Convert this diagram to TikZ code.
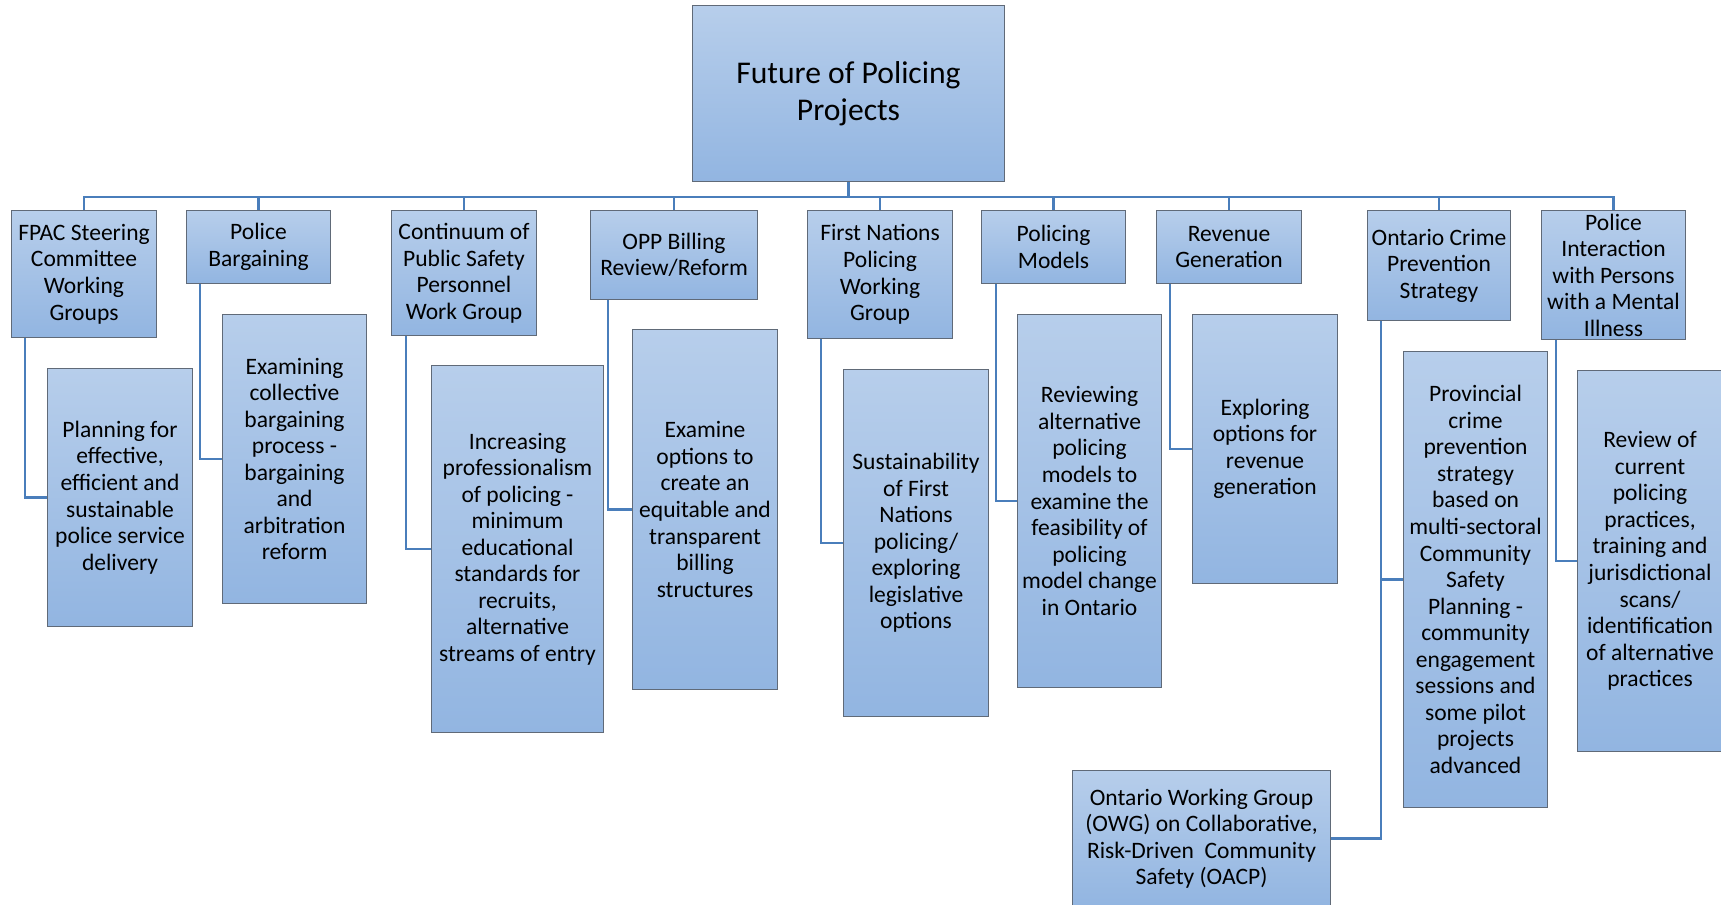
\documentclass[tikz,border=0pt]{standalone}
\usepackage{fontspec}
\setmainfont{Carlito}
\usetikzlibrary{positioning}

\definecolor{boxtop}{RGB}{183,206,235}
\definecolor{boxbot}{RGB}{146,181,225}
\definecolor{boxline}{RGB}{96,106,120}
\definecolor{linkblue}{RGB}{74,126,187}

\begin{document}
\begin{tikzpicture}[x=0.02cm, y=-0.02cm,
    box/.style={draw=boxline, line width=0.6pt, top color=boxtop, bottom color=boxbot,
      anchor=north west, align=center, inner sep=1pt,
      font=\fontsize{13.4}{15.1}\selectfont},
    link/.style={draw=linkblue, line width=1.4pt},
  ]
  \useasboundingbox (0,0) rectangle (1721,904);

  % top of the tree
  \node[box, minimum width=6.24cm, minimum height=3.52cm,
    font=\fontsize{18}{21}\selectfont] (root) at (692,5) {Future of Policing\\Projects};
  \coordinate (bus) at (848,197);

  % projects
  \node[box, minimum width=2.9cm, minimum height=2.54cm] (fpac) at (11,210) {FPAC Steering\\Committee\\Working\\Groups};
  \node[box, minimum width=2.88cm, minimum height=1.46cm] (barg) at (186,210) {Police\\Bargaining};
  \node[box, minimum width=2.9cm, minimum height=2.5cm] (cont) at (391,210) {Continuum of\\Public Safety\\Personnel\\Work Group};
  \node[box, minimum width=3.34cm, minimum height=1.78cm] (opp) at (590,210) {OPP Billing\\Review/Reform};
  \node[box, minimum width=2.9cm, minimum height=2.56cm] (fnat) at (807,210) {First Nations\\Policing\\Working\\Group};
  \node[box, minimum width=2.88cm, minimum height=1.46cm] (models) at (981,210) {Policing\\Models};
  \node[box, minimum width=2.9cm, minimum height=1.46cm] (revgen) at (1156,210) {Revenue\\Generation};
  \node[box, minimum width=2.86cm, minimum height=2.2cm] (ocps) at (1367,210) {Ontario Crime\\Prevention\\Strategy};
  \node[box, minimum width=2.88cm, minimum height=2.58cm] (pimi) at (1541,210) {Police\\Interaction\\with Persons\\with a Mental\\Illness};

  % descriptions
  \node[box, minimum width=2.9cm, minimum height=5.16cm] (plan) at (47,368) {Planning for\\effective,\\efficient and\\sustainable\\police service\\delivery};
  \node[box, minimum width=2.88cm, minimum height=5.78cm] (exam) at (222,314) {Examining\\collective\\bargaining\\process -\\bargaining\\and\\arbitration\\reform};
  \node[box, minimum width=3.44cm, minimum height=7.34cm] (incr) at (431,365) {Increasing\\professionalism\\of policing -\\minimum\\educational\\standards for\\recruits,\\alternative\\streams of entry};
  \node[box, minimum width=2.9cm, minimum height=7.2cm] (bill) at (632,329) {Examine\\options to\\create an\\equitable and\\transparent\\billing\\structures};
  \node[box, minimum width=2.9cm, minimum height=6.94cm] (sust) at (843,369) {Sustainability\\of First\\Nations\\policing/\\exploring\\legislative\\options};
  \node[box, minimum width=2.88cm, minimum height=7.46cm] (revw) at (1017,314) {Reviewing\\alternative\\policing\\models to\\examine the\\feasibility of\\policing\\model change\\in Ontario};
  \node[box, minimum width=2.9cm, minimum height=5.38cm] (expl) at (1192,314) {Exploring\\options for\\revenue\\generation};
  \node[box, minimum width=2.88cm, minimum height=9.12cm] (prov) at (1403,351) {Provincial\\crime\\prevention\\strategy\\based on\\multi-sectoral\\Community\\Safety\\Planning -\\community\\engagement\\sessions and\\some pilot\\projects\\advanced};
  \node[box, minimum width=2.9cm, minimum height=7.62cm] (rcur) at (1577,370) {Review of\\current\\policing\\practices,\\training and\\jurisdictional\\scans/\\identification\\of alternative\\practices};
  \node[box, minimum width=5.16cm, minimum height=2.72cm] (owg) at (1072,770) {Ontario Working Group\\(OWG) on Collaborative,\\Risk-Driven\ \ Community\\Safety (OACP)};

  % connectors
  \foreach \n in {fpac,barg,cont,opp,fnat,models,revgen,ocps,pimi}
    \draw[link] (\n.north) -- (\n.north |- bus) -| (root.south);
  \foreach \p/\c/\o in {fpac/plan/14, barg/exam/14, cont/incr/15, opp/bill/18,
      fnat/sust/14, models/revw/15, revgen/expl/14, ocps/prov/14, pimi/rcur/15}
    \draw[link] ([xshift={\o*0.02cm}]\p.south west) |- (\c.west);
  \draw[link] ([xshift=0.28cm]ocps.south west) |- (owg.east);
\end{tikzpicture}
\end{document}
